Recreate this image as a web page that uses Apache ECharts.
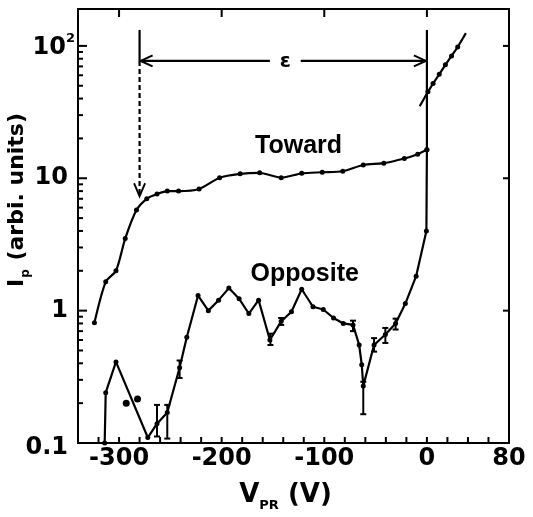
<!DOCTYPE html>
<html><head><meta charset="utf-8">
<script src="https://cdn.jsdelivr.net/npm/echarts@6/dist/echarts.min.js"></script>
<style>html,body{margin:0;padding:0;background:#fff}#c{width:533px;height:517px}</style>
</head><body><div id="c"></div>
<script>
// ---- data ----
const towardV = [-324, -313, -303, -294, -283, -273, -263, -253, -242, -222, -202, -182, -163, -142, -122, -102, -82, -62, -42, -22, -9, 0];
const towardI = [0.81, 1.65, 2.0, 3.5, 5.75, 7.0, 7.6, 8.0, 8.0, 8.3, 10.1, 10.8, 11.0, 10.1, 10.9, 11.1, 11.3, 12.6, 13.0, 14.1, 15.2, 16.4];

const oppositeV = [-314, -313, -303, -272, -263, -253, -241, -234, -223, -213, -203, -193, -183, -173.5, -164, -153, -142, -132, -122, -111, -101, -91, -81.5, -72, -66, -63.5, -62, -51.5, -40.5, -30.5, -21, -10.5, -0.5, 0];
const oppositeI = [0.1, 0.24, 0.41, 0.11, 0.14, 0.17, 0.37, 0.63, 1.3, 1.0, 1.2, 1.48, 1.23, 0.95, 1.2, 0.6, 0.83, 0.98, 1.45, 1.07, 1.02, 0.88, 0.8, 0.78, 0.55, 0.39, 0.27, 0.55, 0.66, 0.8, 1.13, 1.82, 4.0, 16.4];

const strayV = [-293, -282];
const strayI = [0.2, 0.215];

const fitV = [-7, 1, 6, 12, 18, 24, 30, 38];
const fitI = [35, 45, 52, 61, 72, 84, 98, 125];

const errV  = [-263, -253, -241, -152.5, -142, -72, -62, -51.5, -40.5, -30.5];
const errLo = [0.112, 0.108, 0.31, 0.55, 0.78, 0.70, 0.165, 0.49, 0.57, 0.72];
const errHi = [0.194, 0.194, 0.42, 0.67, 0.88, 0.84, 0.29, 0.62, 0.74, 0.87];

// epsilon bracket (data coordinates)
const epsLeftV = -280, epsRightV = 0;
const epsTopI = 132, epsArrowI = 77, epsTipI = 7.3, epsJoinI = 16.4;
const epsGapV = [-153, -123];

// axis ranges and ticks
const X_MIN = -340, X_MAX = 80, Y_MIN = 0.1, Y_MAX = 190;
const xLabelValues = [-300, -200, -100, 0, 80];
const xBottomTickValues = [-320, -300, -280, -260, -240, -220, -200, -180, -160, -140, -120, -100, -80, -60, -40, -20, 0, 20, 40, 60];
const xTopTickValues = [-300, -200, -100, 0];
const yTickValues = [0.1, 1, 10, 100];
const yTickLabels = ['{lo|0.1}', '{n|1}', '{n|10}', '{t|10}{sup|2}'];
const yMajorTickValues = [1, 10, 100];
const yMinorValues = [0.2, 0.3, 0.4, 0.5, 0.6, 0.7, 0.8, 0.9, 2, 3, 4, 5, 6, 7, 8, 9, 20, 30, 40, 50, 60, 70, 80, 90];
const yRightTickValues = [1, 10, 100];

// ---- chart ----
const F = 'DejaVu Sans';
const black = '#000';
const pairs = (a, b) => a.map((v, i) => [v, b[i]]);
const lineW = 2.2;

const arrowStyle = { color: 'rgba(0,0,0,0)', borderColor: black, borderWidth: 2, opacity: 1 };

// tick marks: [x, y, side] ; side 0=bottom,1=top,2=left major,3=left minor,4=right
const tickData = []
  .concat(xBottomTickValues.map(v => [v, Y_MIN, 0]))
  .concat(xTopTickValues.map(v => [v, Y_MAX, 1]))
  .concat(yMajorTickValues.map(v => [X_MIN, v, 2]))
  .concat(yMinorValues.map(v => [X_MIN, v, 3]))
  .concat(yRightTickValues.map(v => [X_MAX, v, 4]));
const tickDir = [[0, -6], [0, 8], [9, 0], [5, 0], [-6, 0]];

const chart = echarts.init(document.getElementById('c'), null, { renderer: 'canvas' });
chart.setOption({
  animation: false,
  backgroundColor: '#fff',
  grid: { left: 78, top: 9, width: 431, height: 434, outerBoundsMode: 'none', containLabel: false },
  xAxis: [{
    type: 'value', min: X_MIN, max: X_MAX, interval: 20, position: 'bottom',
    axisLine: { show: true, onZero: false, lineStyle: { color: black, width: 2 } },
    axisTick: { show: false },
    axisLabel: { customValues: xLabelValues, margin: 4, color: black, fontFamily: F, fontWeight: 'bold', fontSize: 24 },
    splitLine: { show: false },
    name: '{m|V}{s|PR}{m| (V)}', nameLocation: 'middle', nameGap: 39, nameMoveOverlap: false,
    nameTextStyle: {
      padding: [0, 16, 0, 0],
      rich: {
        m: { fontFamily: F, fontWeight: 'bold', fontSize: 26, color: black, verticalAlign: 'top', lineHeight: 30 },
        s: { fontFamily: F, fontWeight: 'bold', fontSize: 13, color: black, verticalAlign: 'bottom', lineHeight: 14, padding: [24, 0, 0, 0] }
      }
    }
  }, {
    type: 'value', min: X_MIN, max: X_MAX, position: 'top',
    axisLine: { show: true, onZero: false, lineStyle: { color: black, width: 2 } },
    axisTick: { show: false }, axisLabel: { show: false }, splitLine: { show: false }
  }],
  yAxis: [{
    type: 'log', logBase: 10, min: Y_MIN, max: Y_MAX, position: 'left',
    axisLine: { show: true, onZero: false, lineStyle: { color: black, width: 2 } },
    axisTick: { show: false },
    axisLabel: {
      customValues: yTickValues, margin: 3,
      formatter: function (v) {
        const i = yTickValues.findIndex(t => Math.abs(Math.log10(t) - Math.log10(v)) < 1e-6);
        return i >= 0 ? yTickLabels[i] : '';
      },
      rich: {
        n: { fontFamily: F, fontWeight: 'bold', fontSize: 24, color: black, padding: [0, 7, 0, 0] },
        t: { fontFamily: F, fontWeight: 'bold', fontSize: 24, color: black, verticalAlign: 'bottom', lineHeight: 28 },
        sup: { fontFamily: F, fontWeight: 'bold', fontSize: 13, color: black, verticalAlign: 'top', lineHeight: 14 },
        lo: { fontFamily: F, fontWeight: 'bold', fontSize: 24, color: black, padding: [10, 7, 0, 0] }
      }
    },
    splitLine: { show: false },
    name: '{m|I}{s|p}{m| (arbi. units)}', nameLocation: 'middle', nameRotate: 90, nameGap: 46, nameMoveOverlap: false,
    nameTextStyle: {
      padding: [0, 0, 0, 52],
      rich: {
        m: { fontFamily: F, fontWeight: 'bold', fontSize: 22, color: black, verticalAlign: 'top', lineHeight: 26 },
        s: { fontFamily: F, fontWeight: 'bold', fontSize: 12, color: black, verticalAlign: 'bottom', lineHeight: 13, padding: [20, 1, 0, 1] }
      }
    }
  }, {
    type: 'log', logBase: 10, min: Y_MIN, max: Y_MAX, position: 'right',
    axisLine: { show: true, onZero: false, lineStyle: { color: black, width: 2 } },
    axisTick: { show: false }, axisLabel: { show: false }, splitLine: { show: false }
  }],
  series: [
    { // tick marks drawn through the axes' scales
      type: 'custom', silent: true, clip: false,
      data: tickData,
      renderItem: function (params, api) {
        const p = api.coord([api.value(0), api.value(1)]);
        const d = tickDir[api.value(2)];
        return { type: 'line', shape: { x1: p[0], y1: p[1], x2: p[0] + d[0], y2: p[1] + d[1] }, style: { stroke: black, lineWidth: 2 } };
      }
    },
    { // Toward
      type: 'line', name: 'Toward', data: pairs(towardV, towardI), smooth: 0.25,
      symbol: 'circle', symbolSize: 5, itemStyle: { color: black },
      lineStyle: { color: black, width: lineW }
    },
    { // Opposite
      type: 'line', name: 'Opposite', data: pairs(oppositeV, oppositeI),
      symbol: 'circle', symbolSize: 5, itemStyle: { color: black },
      lineStyle: { color: black, width: lineW }
    },
    { // stray points
      type: 'scatter', data: pairs(strayV, strayI), symbol: 'circle', symbolSize: 7, itemStyle: { color: black, opacity: 1 }
    },
    { // fitted line above V=0
      type: 'line', data: pairs(fitV, fitI).map((p, i, a) => ({ value: p, symbol: (i === 0 || i === a.length - 1) ? 'none' : 'circle' })),
      symbolSize: 5, itemStyle: { color: black }, lineStyle: { color: black, width: lineW }
    },
    { // error bars
      type: 'custom',
      data: errV.map((v, i) => [v, errLo[i], errHi[i]]),
      encode: { x: 0, y: [1, 2] },
      renderItem: function (params, api) {
        const a = api.coord([api.value(0), api.value(1)]);
        const b = api.coord([api.value(0), api.value(2)]);
        const w = 3;
        const st = { stroke: black, lineWidth: 2 };
        return { type: 'group', children: [
          { type: 'line', shape: { x1: a[0], y1: a[1], x2: b[0], y2: b[1] }, style: st },
          { type: 'line', shape: { x1: a[0] - w, y1: a[1], x2: a[0] + w, y2: a[1] }, style: st },
          { type: 'line', shape: { x1: b[0] - w, y1: b[1], x2: b[0] + w, y2: b[1] }, style: st }
        ] };
      }
    },
    { // right epsilon marker (V = 0)
      type: 'line', data: [[epsRightV, epsJoinI], [epsRightV, epsTopI]], symbol: 'none',
      lineStyle: { color: black, width: lineW }
    },
    { // left epsilon marker, solid top part
      type: 'line', data: [[epsLeftV, epsTopI], [epsLeftV, epsArrowI]], symbol: 'none',
      lineStyle: { color: black, width: lineW }
    },
    { // left epsilon marker, dashed part with arrow head
      type: 'line',
      data: [{ value: [epsLeftV, epsArrowI], symbol: 'none' },
             { value: [epsLeftV, epsTipI], symbol: 'path://M0,0 L6,12 L12,0', symbolSize: [11, 13], symbolOffset: [0, '-50%'] }],
      itemStyle: arrowStyle,
      lineStyle: { color: black, width: lineW, type: [5, 3] }
    },
    { // horizontal arrow, left part
      type: 'line',
      data: [{ value: [epsLeftV + 1, epsArrowI], symbol: 'path://M12,0 L0,6 L12,12', symbolSize: [12, 11], symbolOffset: ['50%', 0] },
             { value: [epsGapV[0], epsArrowI], symbol: 'none' }],
      itemStyle: arrowStyle, lineStyle: { color: black, width: lineW }
    },
    { // horizontal arrow, right part
      type: 'line',
      data: [{ value: [epsGapV[1], epsArrowI], symbol: 'none' },
             { value: [epsRightV - 1, epsArrowI], symbol: 'path://M0,0 L12,6 L0,12', symbolSize: [12, 11], symbolOffset: ['-50%', 0] }],
      itemStyle: arrowStyle, lineStyle: { color: black, width: lineW }
    },
    { // text labels
      type: 'scatter', symbolSize: 0.1, itemStyle: { color: 'rgba(0,0,0,0)' },
      label: { show: true, position: [0, 0], align: 'center', verticalAlign: 'middle', color: black, opacity: 1, fontFamily: 'Liberation Sans', fontWeight: 'bold', fontSize: 25 },
      data: [
        { value: [-125, 17.4], label: { formatter: 'Toward' } },
        { value: [-119, 1.9], label: { formatter: 'Opposite' } },
        { value: [-138, 76], label: { formatter: 'ε', fontFamily: F, fontSize: 20 } }
      ]
    }
  ]
});
</script>
</body></html>
